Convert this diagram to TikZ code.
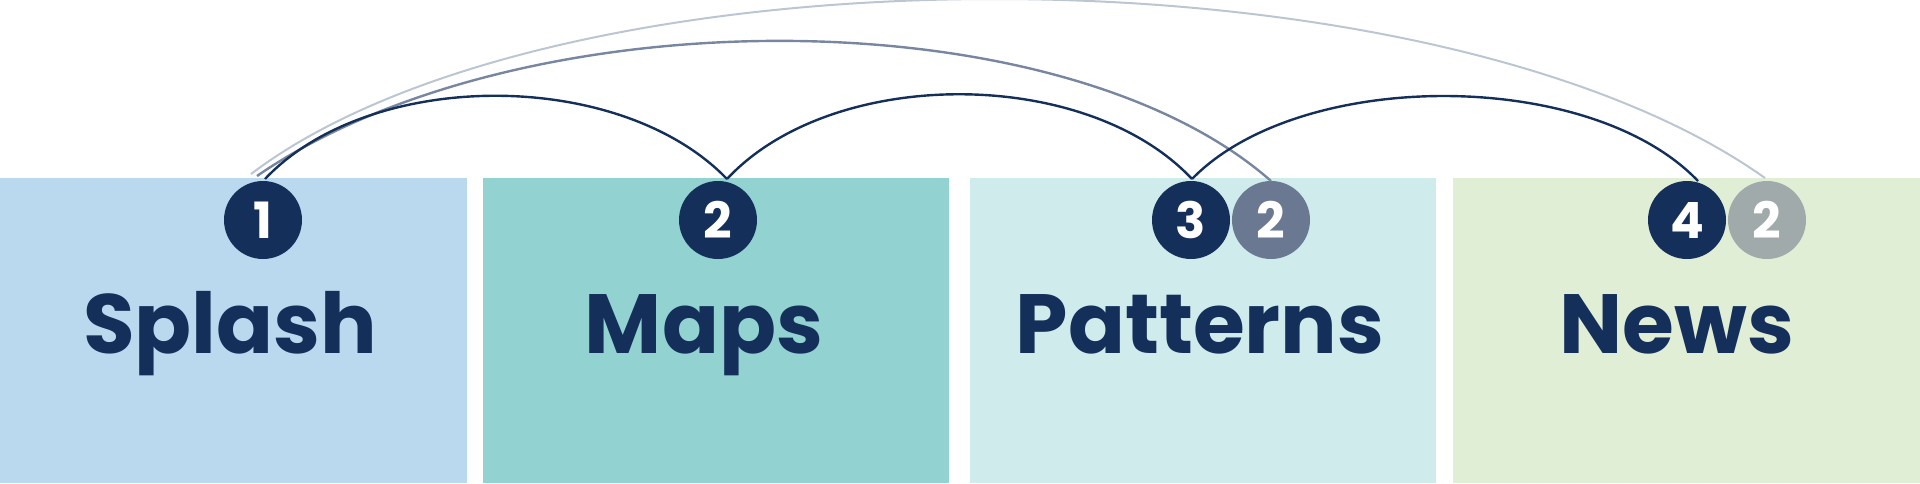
\documentclass[tikz,border=0pt]{standalone}
\usepackage{fontspec}
\setmainfont{Poppins}[UprightFont=* Bold]
\definecolor{navy}{HTML}{142F5A}
\definecolor{midg}{HTML}{6A7892}
\definecolor{lgc}{HTML}{A0AAAB}
\definecolor{arcmid}{HTML}{7886A0}
\definecolor{arclt}{HTML}{BCC6D2}
\definecolor{bA}{HTML}{BBD9EE}
\definecolor{bB}{HTML}{92D3D1}
\definecolor{bC}{HTML}{D0EBEC}
\definecolor{bD}{HTML}{E0EED6}
\begin{document}
\begin{tikzpicture}[x=1pt,y=-1pt,
  panel/.style={inner sep=0,outer sep=0},
  num/.style={circle,minimum size=78pt,inner sep=0,text=white,font=\fontsize{50}{50}\selectfont},
  title/.style={text=navy,font=\fontsize{84}{84}\selectfont,anchor=base,inner sep=0},
  link/.style={line width=2.4pt}]
\useasboundingbox (0,0) rectangle (1920,483);
\fill[bA] (0,178) rectangle (467,483);
\fill[bB] (483,178) rectangle (949,483);
\fill[bC] (970,178) rectangle (1436,483);
\fill[bD] (1453,178) rectangle (1920,483);
\node[title] (t1) at (230,353) {Splash};
\node[title] (t2) at (704,353) {Maps};
\node[title] (t3) at (1200,353) {Patterns};
\node[title] (t4) at (1677,353) {News};
\node[num,fill=midg] (c3b) at (1271,220) {2};
\node[num,fill=lgc] (c4b) at (1767,220) {2};
\node[num,fill=navy] (c1) at (263,220) {1};
\node[num,fill=navy] (c2) at (718,220) {2};
\node[num,fill=navy] (c3) at (1191,220) {3};
\node[num,fill=navy] (c4) at (1687,220) {4};
\coordinate (s1) at (265,179);
\coordinate (s2) at (257,176);
\coordinate (s3) at (251,174);
\coordinate (e2) at (727,179);
\coordinate (e3) at (1192,179);
\coordinate (e4) at (1698,181);
\coordinate (e3b) at (1271,181);
\coordinate (e4b) at (1765,178);
\draw[link,arclt,line width=2pt] (s3) .. controls (560,-60) and (1430,-60) .. (e4b);
\draw[link,arcmid] (s2) .. controls (520,-5) and (1060,-5) .. (e3b);
\draw[link,navy] (s1) .. controls (370,68) and (620,68) .. (e2);
\draw[link,navy] (e2) .. controls (832,66) and (1086,66) .. (e3);
\draw[link,navy] (e3) .. controls (1300,68) and (1590,68) .. (e4);
\end{tikzpicture}
\end{document}
